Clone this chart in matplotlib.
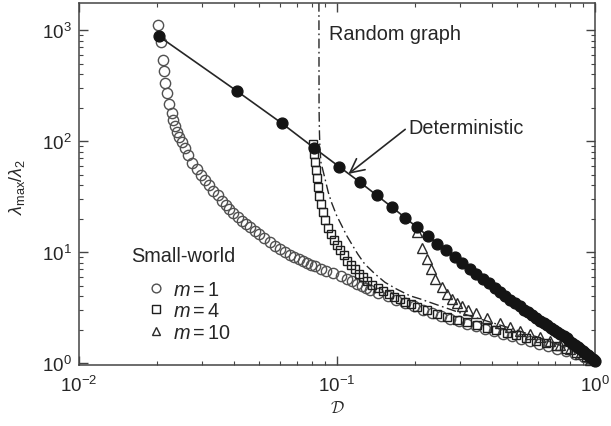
import matplotlib
matplotlib.use("Agg")
import matplotlib.pyplot as plt
from matplotlib.ticker import LogLocator, NullFormatter

plt.rcParams["font.family"] = ["Liberation Sans", "DejaVu Sans"]
plt.rcParams["mathtext.fontset"] = "custom"
plt.rcParams["mathtext.rm"] = "Liberation Sans"
plt.rcParams["mathtext.it"] = "Liberation Sans:italic"
plt.rcParams["mathtext.bf"] = "Liberation Sans:bold"

INK = "#262626"

# deterministic graphs (filled circles, joined by a line)
det_D = [0.0204, 0.0408, 0.0612, 0.0816, 0.1020, 0.1224, 0.1429, 0.1633, 0.1837, 0.2041,
         0.2245, 0.2449, 0.2653, 0.2857, 0.3061, 0.3265, 0.3469, 0.3673, 0.3878, 0.4082,
         0.4286, 0.4490, 0.4694, 0.4898, 0.5102, 0.5306, 0.5510, 0.5714, 0.5918, 0.6122,
         0.6327, 0.6531, 0.6735, 0.6939, 0.7143, 0.7347, 0.7551, 0.7755, 0.7959, 0.8163,
         0.8367, 0.8571, 0.8776, 0.8980, 0.9184, 0.9388, 0.9592, 0.9796, 1.0000]
det_ratio = [883, 285, 145, 87, 59, 43, 32.5, 25.5, 20.5, 16.8,
             14.1, 12.0, 10.4, 9.1, 8.0, 7.1, 6.4, 5.8, 5.25, 4.8,
             4.4, 4.05, 3.75, 3.5, 3.27, 3.05, 2.87, 2.70, 2.55, 2.42,
             2.30, 2.20, 2.10, 2.01, 1.93, 1.85, 1.77, 1.68, 1.60, 1.53,
             1.46, 1.40, 1.34, 1.28, 1.23, 1.18, 1.13, 1.09, 1.05]

# random graph (dash-dot curve)
rnd_D = [0.0851, 0.0852, 0.0855, 0.0858, 0.0866, 0.0899, 0.0925, 0.0954, 0.0997, 0.1043,
         0.1091, 0.1160, 0.1205, 0.1280, 0.1404, 0.1533, 0.1700, 0.1915, 0.2100, 0.2500,
         0.3000, 0.3500, 0.4000, 0.5000, 0.6000, 0.7000, 0.8000, 0.9000, 1.0000]
rnd_ratio = [1800, 200, 120, 91, 65, 45.7, 34.7, 27.8, 21.4, 17.4,
             14.1, 11.1, 9.6, 7.85, 6.38, 5.37, 4.67, 4.06, 3.8, 3.3,
             2.85, 2.55, 2.32, 1.98, 1.72, 1.52, 1.34, 1.17, 1.0]

# small-world, m = 1 (open circles)
sw1_D = [0.0203, 0.0208, 0.0211, 0.0213, 0.0216, 0.0220, 0.0224, 0.0229, 0.0232, 0.0236,
         0.0240, 0.0245, 0.0250, 0.0257, 0.0265, 0.0275, 0.0286, 0.0297, 0.0309, 0.0320,
         0.0332, 0.0345, 0.0357, 0.0370, 0.0383, 0.0397, 0.0412, 0.0428, 0.0445, 0.0462,
         0.0480, 0.0498, 0.0523, 0.0550, 0.0575, 0.0601, 0.0628, 0.0657, 0.0683, 0.0710,
         0.0737, 0.0765, 0.0793, 0.0822, 0.0865, 0.0910, 0.0968, 0.1040, 0.1090, 0.1140,
         0.1200, 0.1250, 0.1300, 0.1345, 0.1445, 0.157, 0.170, 0.184, 0.199, 0.215,
         0.233, 0.252, 0.273, 0.296, 0.320, 0.347, 0.376, 0.407, 0.441, 0.477,
         0.517, 0.560, 0.606, 0.656, 0.711, 0.770, 0.834, 0.903, 0.978]
sw1_ratio = [1110, 780, 545, 430, 335, 272, 218, 180, 157, 138,
             122, 109, 98, 86.5, 75.5, 64, 56.5, 50, 45, 40.5,
             36, 32.5, 29.2, 26.8, 24.5, 22.4, 20.7, 19.2, 17.9, 16.8,
             15.6, 14.6, 13.4, 12.3, 11.4, 10.7, 10.0, 9.45, 9.0, 8.65,
             8.3, 8.0, 7.75, 7.45, 7.1, 6.8, 6.45, 6.1, 5.8, 5.5,
             5.2, 4.95, 4.75, 4.6, 4.3, 4.0, 3.72, 3.48, 3.25, 3.05,
             2.86, 2.69, 2.53, 2.39, 2.27, 2.15, 2.04, 1.94, 1.84, 1.75,
             1.66, 1.58, 1.50, 1.43, 1.35, 1.28, 1.20, 1.13, 1.06]

# small-world, m = 4 (open squares)
sw4_D = [0.0809, 0.0815, 0.0822, 0.0829, 0.0835, 0.0846, 0.0855, 0.0866, 0.0880, 0.0900,
         0.0925, 0.0950, 0.0975, 0.1000, 0.1030, 0.1060, 0.1095, 0.1130, 0.1170, 0.1215,
         0.1260, 0.1310, 0.1370, 0.1440, 0.1510, 0.1590, 0.1670, 0.1750, 0.1840, 0.1930,
         0.2040, 0.2230, 0.2440, 0.2660, 0.2910, 0.3180, 0.3480, 0.3800, 0.4150, 0.4540,
         0.4960, 0.5420, 0.5920, 0.6480, 0.7080, 0.7730, 0.8450, 0.9240, 0.9900]
sw4_ratio = [95, 77, 65, 55.5, 46.5, 38.5, 32.3, 27.2, 23, 19.5,
             16.6, 14.5, 12.8, 11.6, 10.4, 9.4, 8.4, 7.7, 7.0, 6.4,
             5.95, 5.5, 5.1, 4.75, 4.45, 4.2, 3.98, 3.8, 3.58, 3.4,
             3.2, 3.0, 2.8, 2.62, 2.48, 2.36, 2.23, 2.1, 1.98, 1.88,
             1.78, 1.69, 1.6, 1.51, 1.43, 1.34, 1.25, 1.15, 1.08]

# small-world, m = 10 (open triangles)
sw10_D = [0.204, 0.213, 0.2227, 0.2308, 0.2398, 0.2546, 0.2662, 0.2784, 0.2915, 0.3043,
          0.3228, 0.3458, 0.3825, 0.428, 0.468, 0.512, 0.560, 0.612, 0.669, 0.731,
          0.799, 0.874, 0.955]
sw10_ratio = [15.3, 10.9, 8.7, 7.0, 5.8, 4.85, 4.2, 3.8, 3.5, 3.26,
              3.04, 2.82, 2.58, 2.3, 2.12, 1.97, 1.84, 1.71, 1.6, 1.47,
              1.34, 1.2, 1.08]

fig = plt.figure(figsize=(6.11, 4.27), dpi=100)
ax = fig.add_axes([79 / 611, 1 - 365.7 / 427, 516 / 611, 361.7 / 427])
ax.set_xscale("log")
ax.set_yscale("log")
ax.set_xlim(0.01, 1.0)
ax.set_ylim(0.971, 1762)

ax.plot(rnd_D, rnd_ratio, color=INK, lw=1.0, dashes=(7, 2.5, 1.2, 2.5), zorder=2)

open_kw = dict(ls="none", mfc="none", mew=1.0, clip_on=False)
l1, = ax.plot(sw1_D, sw1_ratio, marker="o", ms=7.4, mec="#505050", zorder=3, **open_kw)
l4, = ax.plot(sw4_D, sw4_ratio, marker="s", ms=6.2, mec="#1e1e1e", zorder=4, **open_kw)
l10, = ax.plot(sw10_D, sw10_ratio, marker="^", ms=7.0, mec="#2a2a2a", zorder=4, **open_kw)
ax.plot(det_D, det_ratio, color=INK, lw=1.2, marker="o", ms=7.8, mfc="#141414",
        mec="#141414", zorder=5, clip_on=False)

ax.text(0.0935, 940, "Random graph", fontsize=14.3, color=INK, va="center", ha="left")
ax.annotate("Deterministic", xy=(0.1107, 50.8), xytext=(0.1884, 134), fontsize=14.3,
            color=INK, va="center", ha="left",
            arrowprops=dict(arrowstyle="->,head_length=0.7,head_width=0.35", color=INK,
                            lw=1.2, relpos=(0, 0.5), shrinkA=0, shrinkB=0))

ax.text(0.0159, 9.3, "Small-world", fontsize=14.3, color=INK, va="center", ha="left")
ax.legend([l1, l4, l10], ["$m=1$", "$m=4$", "$m=10$"], loc="upper left",
          bbox_to_anchor=(0.110, 0.262), frameon=False, fontsize=14.3,
          handlelength=1.0, handletextpad=0.35, labelspacing=0.12,
          borderpad=0.0, markerscale=0.85, labelcolor=INK)

ax.set_ylabel(r"$\lambda_{\mathrm{max}}/\lambda_2$", fontsize=13, color=INK)
ax.yaxis.set_label_coords(-0.1, 0.495)
ax.set_xlabel(r"$\mathcal{D}$", fontsize=12, color=INK, math_fontfamily="cm")
ax.xaxis.set_label_coords(0.5, -0.095)

for axis in (ax.xaxis, ax.yaxis):
    axis.set_major_locator(LogLocator(base=10, numticks=10))
    axis.set_minor_locator(LogLocator(base=10, subs=range(2, 10), numticks=20))
    axis.set_minor_formatter(NullFormatter())
ax.tick_params(which="both", direction="in", top=True, right=True, color="#444444",
               labelsize=13.5, labelcolor=INK)
ax.tick_params(which="major", length=6.5, width=1.0)
ax.tick_params(which="minor", length=3.2, width=0.8)
ax.tick_params(axis="x", pad=7)
ax.tick_params(axis="y", pad=5)
for s in ax.spines.values():
    s.set_color("#444444")
    s.set_linewidth(1.1)

fig.savefig("out.png", dpi=100)
